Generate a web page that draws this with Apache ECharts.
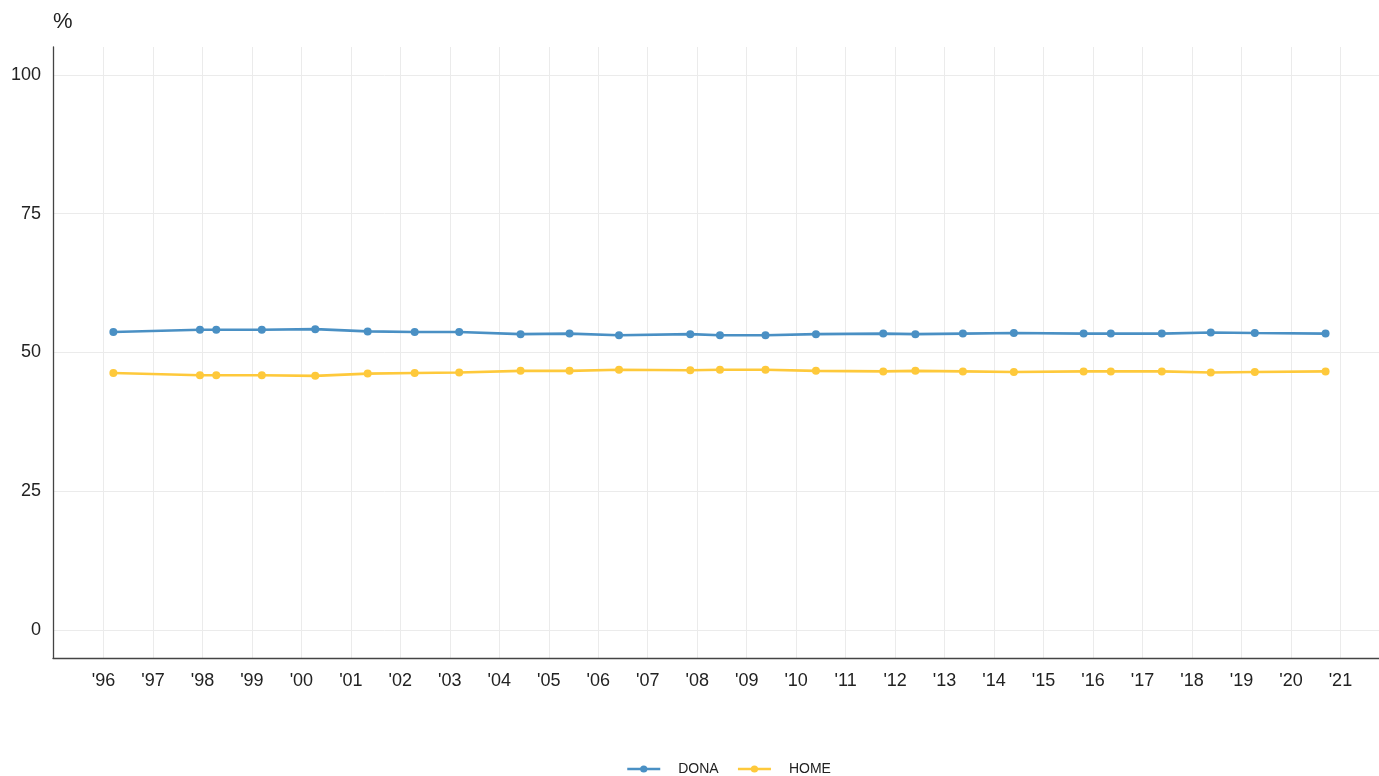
<!DOCTYPE html>
<html>
<head>
<meta charset="utf-8">
<script src="https://cdn.jsdelivr.net/npm/echarts@6/dist/echarts.min.js"></script>
<style>html,body{margin:0;padding:0;background:#fff}#c{width:1379px;height:776px}</style>
</head>
<body>
<div id="c"></div>
<script>
// Dates as decimal years (survey dates)
const dates = [1996.20,1997.95,1998.28,1999.20,2000.28,2001.34,2002.29,2003.19,2004.43,2005.42,2006.42,2007.86,2008.46,2009.38,2010.40,2011.76,2012.41,2013.37,2014.40,2015.81,2016.36,2017.39,2018.38,2019.27,2020.70];
const dona = [53.7,54.1,54.1,54.1,54.2,53.8,53.7,53.7,53.3,53.4,53.1,53.3,53.1,53.1,53.3,53.4,53.3,53.4,53.5,53.4,53.4,53.4,53.6,53.5,53.4];
const home = [46.3,45.9,45.9,45.9,45.8,46.2,46.3,46.4,46.7,46.7,46.9,46.8,46.9,46.9,46.7,46.6,46.7,46.6,46.5,46.6,46.6,46.6,46.4,46.5,46.6];
const yearTicks = [1996,1997,1998,1999,2000,2001,2002,2003,2004,2005,2006,2007,2008,2009,2010,2011,2012,2013,2014,2015,2016,2017,2018,2019,2020,2021];
const yTicks = [0,25,50,75,100];
const seriesNames = ['DONA','HOME'];
const colors = ['#4a90c4','#fec93b'];

const chart = echarts.init(document.getElementById('c'));
const pair = (arr) => dates.map((d, i) => [d, arr[i]]);
chart.setOption({
  animation: false,
  color: colors,
  textStyle: { fontFamily: 'Liberation Sans, Arial, sans-serif' },
  grid: { left: 53, right: 0, top: 47, bottom: 118 },
  legend: {
    data: seriesNames,
    top: 762,
    left: 626,
    itemWidth: 33,
    itemHeight: 9,
    itemGap: 18,
    padding: 0,
    lineStyle: { width: 2.5 },
    textStyle: { fontSize: 14, color: '#222', padding: [0, 0, 0, 13] }
  },
  xAxis: {
    type: 'value',
    min: 1994.98,
    max: 2021.78,
    axisLine: { show: true, onZero: false, lineStyle: { color: '#444', width: 1.3 } },
    axisTick: { show: false, customValues: yearTicks },
    axisLabel: {
      customValues: yearTicks,
      formatter: (v) => "'" + String(v).slice(2),
      fontSize: 18, color: '#222', margin: 14
    },
    splitLine: { show: true, lineStyle: { color: '#ebebeb', width: 1 } }
  },
  yAxis: {
    type: 'value',
    min: -5,
    max: 105,
    name: '%',
    nameLocation: 'end',
    nameGap: 14,
    nameTextStyle: { fontSize: 22, color: '#222', align: 'left', padding: [0, 0, 0, 0] },
    axisLine: { show: true, lineStyle: { color: '#444', width: 1.3 } },
    axisTick: { show: false, customValues: yTicks },
    axisLabel: { customValues: yTicks, fontSize: 18, color: '#222', margin: 12 },
    splitLine: { show: true, lineStyle: { color: '#ebebeb', width: 1 } }
  },
  series: [
    { name: seriesNames[0], type: 'line', data: pair(dona), symbol: 'circle', symbolSize: 8, lineStyle: { width: 2.6 } },
    { name: seriesNames[1], type: 'line', data: pair(home), symbol: 'circle', symbolSize: 8, lineStyle: { width: 2.6 } }
  ]
});
</script>
</body>
</html>
